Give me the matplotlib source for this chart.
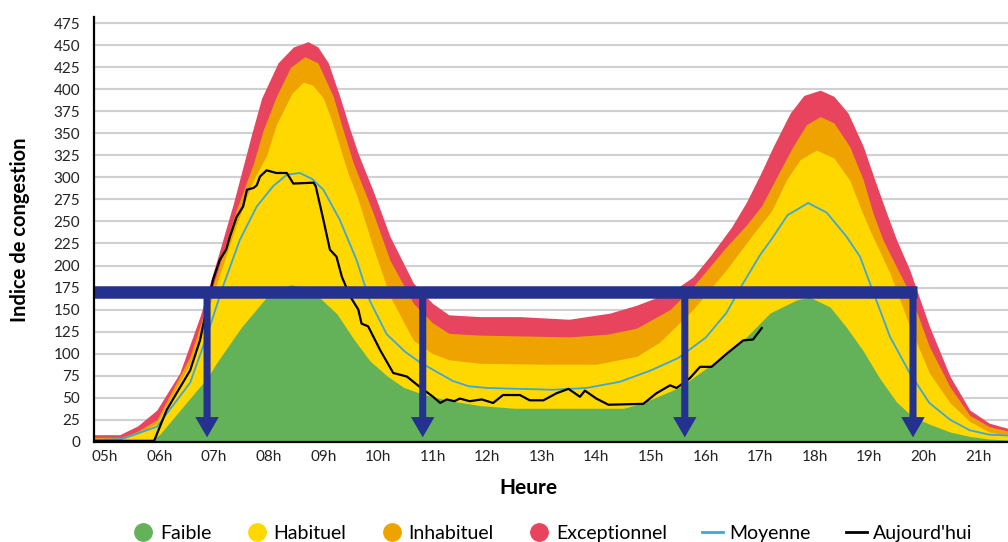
import matplotlib
matplotlib.use('Agg')
import matplotlib.pyplot as plt
from matplotlib.lines import Line2D

plt.rcParams['font.family'] = ['Lato', 'DejaVu Sans']

# Exceptionnel (haut de la bande rouge)
heures_exc = [4.8, 5.27, 5.6, 5.95, 6.37, 6.74, 7.05, 7.35, 7.52, 7.69, 7.87, 8.17, 8.45, 8.72, 8.9,
              9.09, 9.3, 9.49, 9.65, 9.91, 10.22, 10.65, 11.0, 11.3, 11.87, 12.6, 13.5, 14.25, 14.74,
              15.16, 15.35, 15.77, 16.1, 16.48, 16.75, 17.0, 17.24, 17.55, 17.8, 18.1, 18.35, 18.61,
              18.89, 19.1, 19.32, 19.5, 19.74, 20.1, 20.48, 20.84, 21.2, 21.55]
exceptionnel = [8, 8, 18, 36, 78, 142, 206, 270, 310, 350, 390, 430, 448, 454, 448,
                430, 392, 354, 325, 285, 233, 180, 157, 144, 142, 142, 139, 146, 155,
                165, 169, 187, 212, 244, 272, 303, 335, 373, 393, 399, 392, 373,
                335, 297, 259, 229, 195, 131, 74, 36, 21, 15]

# Inhabituel (orange)
heures_inh = [4.8, 5.3, 5.6, 5.95, 6.56, 7.05, 7.4, 7.72, 7.9, 8.14, 8.4, 8.66, 8.9, 9.18, 9.36,
              9.55, 9.75, 9.91, 10.22, 10.65, 11.0, 11.3, 11.87, 12.7, 13.5, 14.2, 14.74, 15.0,
              15.35, 15.77, 16.38, 16.75, 17.03, 17.3, 17.6, 17.85, 18.1, 18.35, 18.64, 18.89, 19.07,
              19.25, 19.5, 19.74, 20.1, 20.48, 20.84, 21.2, 21.55]
inhabituel = [5, 5, 12, 25, 97, 191, 262, 316, 354, 392, 425, 437, 430, 392, 354,
              316, 285, 260, 206, 157, 135, 123, 121, 120, 119, 122, 129, 138,
              150, 176, 221, 246, 268, 300, 335, 360, 369, 362, 335, 297, 259,
              229, 198, 169, 108, 62, 30, 17, 12]

# Habituel (jaune)
heures_hab = [4.8, 5.3, 5.6, 5.95, 6.56, 7.05, 7.4, 7.7, 7.96, 8.14, 8.42, 8.63, 8.8, 9.0, 9.15,
              9.3, 9.45, 9.61, 9.91, 10.22, 10.65, 11.0, 11.3, 11.87, 13.0, 14.0, 14.74, 15.16,
              15.77, 16.38, 16.9, 17.21, 17.48, 17.73, 18.03, 18.35, 18.64, 18.86, 19.01, 19.38,
              19.74, 20.1, 20.48, 20.84, 21.2, 21.55]
habituel = [3, 3, 9, 21, 89, 180, 245, 295, 325, 360, 395, 408, 405, 390, 365,
            335, 305, 280, 221, 165, 115, 100, 93, 89, 88, 88, 97, 113,
            150, 195, 238, 262, 297, 320, 331, 322, 297, 262, 240, 191,
            131, 78, 44, 23, 11, 7]

# Faible (vert)
heures_fai = [4.8, 5.5, 5.85, 6.0, 6.5, 6.87, 7.05, 7.5, 7.96, 8.2, 8.4, 8.6, 8.94, 9.25, 9.55,
              9.85, 10.16, 10.46, 10.77, 11.0, 11.37, 11.87, 12.5, 14.5, 14.74, 15.04, 15.53, 16.14,
              16.75, 17.18, 17.67, 17.91, 18.28, 18.58, 18.89, 19.19, 19.5, 19.8, 20.1, 20.48, 20.84,
              21.2, 21.55]
faible = [0, 0, 2, 8, 45, 72, 90, 130, 164, 174, 178, 176, 163, 145, 117,
          92, 75, 62, 55, 51, 46, 41, 38, 38, 42, 49, 62, 89,
          119, 146, 161, 164, 153, 130, 103, 72, 45, 28, 20, 11, 6,
          3, 2]

# Moyenne (ligne bleue)
heures_moy = [4.8, 5.3, 5.95, 6.56, 6.86, 7.16, 7.47, 7.78, 8.08, 8.33, 8.57, 8.8, 9.0, 9.3, 9.61,
              9.85, 10.16, 10.5, 10.77, 11.0, 11.37, 11.66, 12.0, 12.6, 13.2, 13.82, 14.43, 15.0,
              15.5, 16.0, 16.38, 16.69, 17.0, 17.21, 17.5, 17.88, 18.22, 18.58, 18.83, 19.01, 19.38,
              19.74, 20.1, 20.48, 20.84, 21.2, 21.55]
moyenne = [2, 3, 17, 67, 119, 176, 229, 267, 290, 303, 305, 298, 286, 252, 206,
           160, 122, 102, 90, 82, 69, 63, 61, 60, 59, 61, 68, 81,
           95, 118, 146, 180, 212, 230, 257, 271, 260, 233, 210, 180, 119,
           78, 44, 25, 13, 8, 7]

# Aujourd'hui (ligne noire)
heures_auj = [4.8, 5.9, 5.92, 6.13, 6.31, 6.56, 6.74, 6.86, 6.98, 7.1, 7.22, 7.29, 7.41, 7.53, 7.6,
              7.72, 7.78, 7.84, 7.96, 8.14, 8.33, 8.45, 8.82, 8.86, 9.0, 9.12, 9.24, 9.34, 9.49, 9.64,
              9.7, 9.82, 10.04, 10.28, 10.53, 10.77, 11.01, 11.14, 11.26, 11.4, 11.5, 11.68, 11.9,
              12.11, 12.29, 12.6, 12.78, 13.03, 13.27, 13.49, 13.7, 13.79, 14.0, 14.22, 14.86, 15.1,
              15.35, 15.47, 15.71, 15.9, 16.11, 16.39, 16.69, 16.87, 17.03]
aujourdhui = [1, 1, 4, 36, 55, 81, 115, 150, 184, 206, 218, 233, 255, 267, 286,
              288, 291, 301, 308, 305, 305, 293, 294, 290, 252, 218, 210, 187, 165, 150,
              134, 131, 104, 78, 74, 62, 51, 44, 48, 46, 49, 46, 48,
              44, 53, 53, 47, 47, 55, 60, 51, 58, 49, 42, 43, 55,
              64, 61, 72, 85, 85, 100, 115, 116, 129]

# seuil et heures des fleches
seuil = 170
heures_fleches = [6.87, 10.82, 15.62, 19.8]
fin_seuil = 19.87

heures_ticks = list(range(5, 22))
labels_ticks = ['%02dh' % h for h in heures_ticks]
y_ticks = list(range(0, 500, 25))

c_vert = '#63b25a'
c_jaune = '#ffd800'
c_orange = '#eea300'
c_rouge = '#e8445e'
c_bleu = '#3ea6d8'
c_navy = '#25318f'

fig = plt.figure(figsize=(10.08, 5.42), dpi=100)
ax = fig.add_axes([0.0933, 0.185, 0.9067, 0.7836])

# bandes empilees
ax.fill_between(heures_exc, 0, exceptionnel, color=c_rouge, lw=0, zorder=2)
ax.fill_between(heures_inh, 0, inhabituel, color=c_orange, lw=0, zorder=3)
ax.fill_between(heures_hab, 0, habituel, color=c_jaune, lw=0, zorder=4)
ax.fill_between(heures_fai, 0, faible, color=c_vert, lw=0, zorder=5)

ax.plot(heures_moy, moyenne, color=c_bleu, lw=1.3, zorder=6)
ax.plot(heures_auj, aujourdhui, color='black', lw=1.6, zorder=7)

# seuil + fleches
ax.plot([4.8, fin_seuil], [seuil, seuil], color=c_navy, lw=9, solid_capstyle='butt', zorder=8)
for h in heures_fleches:
    ax.arrow(h, seuil, 0, -(seuil - 5), width=0.13, head_width=0.43, head_length=23,
             length_includes_head=True, color=c_navy, lw=0, zorder=8)

ax.set_xlim(4.8, 21.54)
ax.set_ylim(0, 482)
ax.set_xticks(heures_ticks)
ax.set_xticklabels(labels_ticks)
ax.set_yticks(y_ticks)
ax.tick_params(axis='both', length=0, labelsize=11, colors='#222222')
ax.tick_params(axis='y', pad=10)
ax.tick_params(axis='x', pad=6)
ax.yaxis.grid(True, color='#d0d0d0', lw=1.5, zorder=0)
ax.set_axisbelow(True)

for s in ['top', 'right']:
    ax.spines[s].set_visible(False)
for s in ['left', 'bottom']:
    ax.spines[s].set_linewidth(1.6)
    ax.spines[s].set_color('black')
    ax.spines[s].set_zorder(9)

ax.set_ylabel('Indice de congestion', fontsize=14.5, fontweight='bold')
ax.yaxis.set_label_coords(-0.07, 0.5)
ax.set_xlabel('Heure', fontsize=15, fontweight='bold')
ax.xaxis.set_label_coords(0.475, -0.0855)

handles = [
    Line2D([], [], marker='o', ls='', color=c_vert, markersize=12.5),
    Line2D([], [], marker='o', ls='', color=c_jaune, markersize=12.5),
    Line2D([], [], marker='o', ls='', color=c_orange, markersize=12.5),
    Line2D([], [], marker='o', ls='', color=c_rouge, markersize=12.5),
    Line2D([], [], color=c_bleu, lw=2),
    Line2D([], [], color='black', lw=2),
]
labels = ['Faible', 'Habituel', 'Inhabituel', 'Exceptionnel', 'Moyenne', "Aujourd'hui"]
fig.legend(handles, labels, loc='center', bbox_to_anchor=(0.548, 0.016), ncol=6, frameon=False,
           fontsize=14, handlelength=1.1, handletextpad=0.3, columnspacing=1.8)

plt.savefig('out.png', dpi=100)
